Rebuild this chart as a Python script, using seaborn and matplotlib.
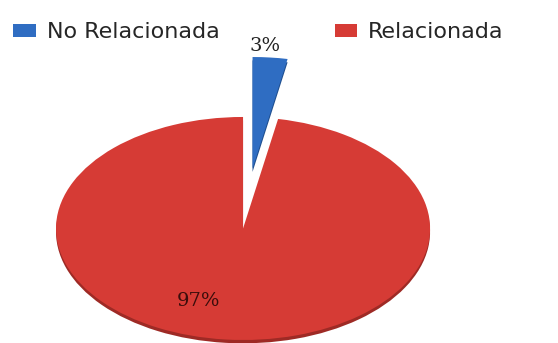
import matplotlib
matplotlib.use("Agg")
import matplotlib.pyplot as plt
import seaborn as sns

# Share of items by relation status
categories = ["No Relacionada", "Relacionada"]
values = [3, 97]
colors = ["#2F6DC2", "#D63B35"]
shade_colors = ["#1F4E8E", "#9E2A25"]

sns.set_theme(style="white")
plt.rcParams["font.family"] = ["DejaVu Sans"]

fig = plt.figure(figsize=(5.58, 3.43), dpi=100)
ax = fig.add_axes([0, 0, 1, 1])

explode = [0.54, 0.0]

# darker copy underneath gives the disc a little thickness
ax.pie(values, explode=explode, colors=shade_colors, startangle=90,
       counterclock=False, center=(0, -0.03),
       wedgeprops=dict(linewidth=0))

wedges, texts, autotexts = ax.pie(
    values, explode=explode, colors=colors, startangle=90,
    counterclock=False, autopct=lambda p: f"{p:.0f}%",
    wedgeprops=dict(linewidth=0),
    textprops=dict(fontsize=14, color="#222222", family="DejaVu Serif"))

# percentage labels: 3% above the pulled-out slice, 97% lower left
autotexts[0].set_position((0.12, 1.64))
autotexts[1].set_position((-0.24, -0.65))
autotexts[1].set_color("#3a0d0b")

# flatten the disc into a tilted ellipse
ax.set_aspect("auto")
ax.set_xlim(-1.2995, 1.684)
ax.set_ylim(-1.027, 2.049)
ax.axis("off")

fig.legend(wedges, categories, loc="upper left", bbox_to_anchor=(0.024, 0.935),
           ncol=2, frameon=False, fontsize=16, handlelength=1.0,
           handleheight=0.55, handletextpad=0.5, columnspacing=5.2,
           borderaxespad=0, borderpad=0)

fig.savefig("out.png", dpi=100)
